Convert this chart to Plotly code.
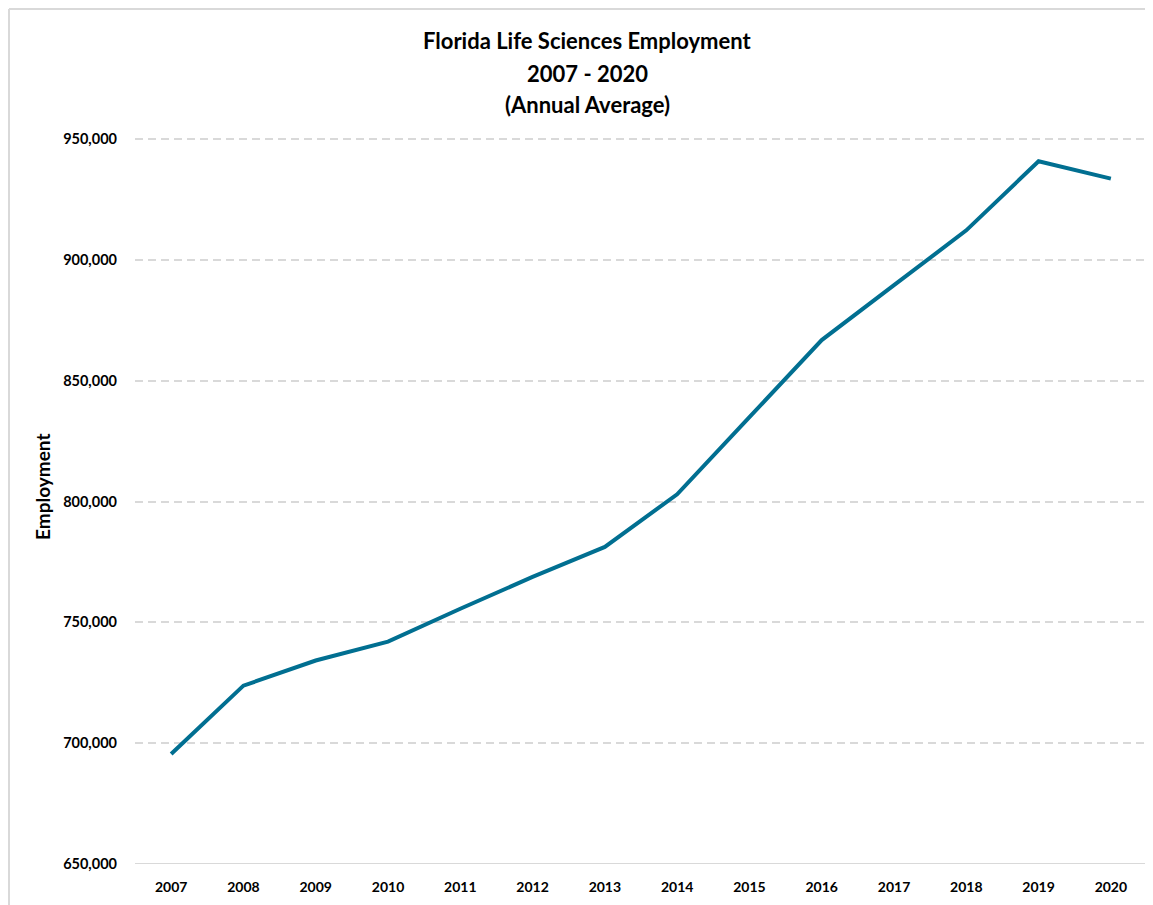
import plotly.graph_objects as go

years = ["2007", "2008", "2009", "2010", "2011", "2012", "2013",
         "2014", "2015", "2016", "2017", "2018", "2019", "2020"]
employment = [695500, 723800, 734200, 742000, 755600, 768800, 781200,
              803000, 834900, 866800, 889500, 912200, 940800, 933600]
y_ticks = [650000, 700000, 750000, 800000, 850000, 900000, 950000]
title_lines = ["Florida Life Sciences Employment", "2007 - 2020", "(Annual Average)"]

FONT = "Lato, Carlito, 'Open Sans', sans-serif"

# the page body has an 8px margin, so the figure is laid out 8px smaller
W, H = 1145, 897
L, R, T, B = 127, 6, 128, 41
PW, PH = W - L - R, H - T - B
# 650k..950k spans 725px; a few extra px on top so the 950k gridline shows
y_max = 650000 + 300000 * PH / 725


def px(x):
    return (x - L) / PW


def py(y):
    return (H - B - y) / PH


fig = go.Figure()
fig.add_trace(go.Scatter(
    x=years, y=employment, mode="lines",
    line=dict(color="#016F91", width=4),
    showlegend=False,
))

notes = []
for line, yc in zip(title_lines, [32, 65, 97]):
    notes.append(dict(
        text="<b>" + line + "</b>", xref="paper", yref="paper",
        x=px(579), y=py(yc), xanchor="center", yanchor="middle",
        showarrow=False, font=dict(size=22, family=FONT, color="#000000"),
    ))
notes.append(dict(
    text="<b>Employment</b>", textangle=-90,
    xref="paper", yref="paper", x=px(35), y=py(479),
    xanchor="center", yanchor="middle", showarrow=False,
    font=dict(size=19, family=FONT, color="#000000"),
))

fig.update_layout(
    width=W, height=H,
    margin=dict(l=L, r=R, t=T, b=B),
    paper_bgcolor="white", plot_bgcolor="white",
    font=dict(family=FONT, color="#000000"),
    xaxis=dict(
        type="category", range=[-0.5, 13.5],
        showgrid=False, showline=False, ticks="",
        tickfont=dict(size=14, family=FONT, color="#000000", weight="bold"),
        ticklabelstandoff=13,
    ),
    yaxis=dict(
        range=[650000, y_max], tickvals=y_ticks, tickformat=",d",
        showgrid=True, gridcolor="#d9d9d9", griddash="8px,5px", gridwidth=1.5,
        zeroline=False, showline=False, ticks="",
        tickfont=dict(size=14.5, family=FONT, color="#000000", weight="bold"),
        ticklabelstandoff=17,
    ),
    annotations=notes,
    shapes=[
        # solid baseline at the bottom of the plot
        dict(type="line", xref="paper", yref="y", x0=0, x1=1,
             y0=650000, y1=650000, line=dict(color="#d9d9d9", width=2)),
        # chart border (left and top edges)
        dict(type="line", xref="paper", yref="paper",
             x0=px(1), x1=px(1), y0=py(H + 5), y1=py(1),
             line=dict(color="#d9d9d9", width=2)),
        dict(type="line", xref="paper", yref="paper",
             x0=px(1), x1=px(W + 5), y0=py(1), y1=py(1),
             line=dict(color="#d9d9d9", width=2)),
    ],
)

fig.write_html("out.html")
